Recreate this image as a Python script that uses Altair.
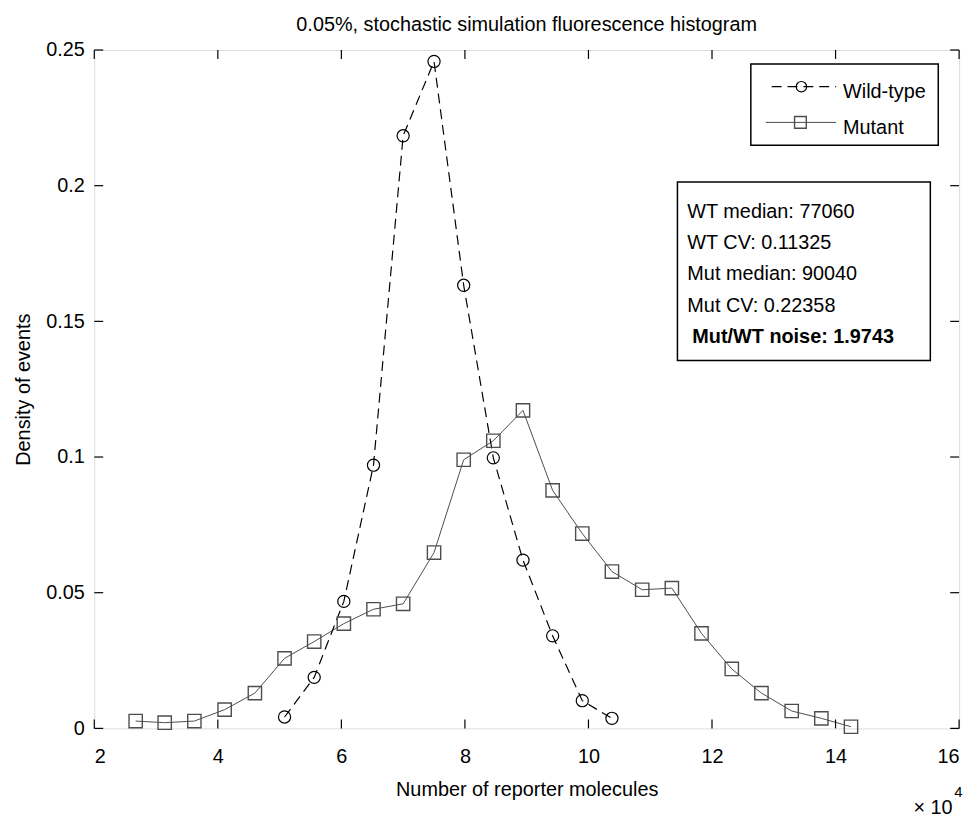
import altair as alt
import pandas as pd

# Data (x in units of 10^4 reporter molecules)
mut_x = [2.67, 3.14, 3.62, 4.11, 4.60, 5.08, 5.56, 6.04, 6.52, 7.00, 7.50, 7.98, 8.46,
         8.94, 9.42, 9.90, 10.38, 10.87, 11.35, 11.83, 12.32, 12.80, 13.29, 13.77, 14.25]
mut_y = [0.0027, 0.0021, 0.0027, 0.0069, 0.0130, 0.0258, 0.0320, 0.0386, 0.0439, 0.0459,
         0.0648, 0.0990, 0.1060, 0.1172, 0.0877, 0.0718, 0.0578, 0.0511, 0.0517, 0.0350,
         0.0219, 0.0130, 0.0064, 0.0037, 0.0006]
wt_x = [5.08, 5.56, 6.04, 6.52, 7.00, 7.50, 7.98, 8.46, 8.94, 9.42, 9.90, 10.38]
wt_y = [0.0042, 0.0188, 0.0468, 0.0970, 0.2184, 0.2458, 0.1633, 0.0997, 0.0620, 0.0341,
        0.0102, 0.0037]

x_ticks = [2, 4, 6, 8, 10, 12, 14, 16]
y_ticks = [0, 0.05, 0.1, 0.15, 0.2, 0.25]
stats_lines = ["WT  median: 77060", "WT  CV: 0.11325", "Mut median: 90040", "Mut CV: 0.22358"]
stats_bold = "Mut/WT noise: 1.9743"
title_text = "0.05%, stochastic simulation fluorescence histogram"

W, H = 872, 684
FONT = "Liberation Sans"
FS = 20
MUT_C = "#4d4d4d"

mut_df = pd.DataFrame({"x": mut_x, "y": mut_y})
wt_df = pd.DataFrame({"x": wt_x, "y": wt_y})
xt_df = pd.DataFrame({"t": x_ticks})
yt_df = pd.DataFrame({"t": y_ticks})

xscale = alt.Scale(domain=[2, 16], nice=False, zero=False)
yscale = alt.Scale(domain=[0, 0.25], nice=False, zero=False)

xaxis = alt.Axis(values=x_ticks, ticks=False, domain=False, grid=False, labelFontSize=FS,
                 labelFont=FONT, labelColor="black", labelPadding=18,
                 title="Number of reporter molecules", titleFont=FONT, titleFontSize=FS,
                 titleFontWeight="normal", titleColor="black", titlePadding=14,
                 labelExpr="datum.value", labelOverlap=False)
yaxis = alt.Axis(values=y_ticks, ticks=False, domain=False, grid=False, labelFontSize=FS,
                 labelFont=FONT, labelColor="black", labelPadding=10,
                 title="Density of events", titleFont=FONT, titleFontSize=FS,
                 titleFontWeight="normal", titleColor="black", titlePadding=12,
                 labelExpr="datum.value", labelOverlap=False)

mut_line = alt.Chart(mut_df).mark_line(color=MUT_C, strokeWidth=1).encode(
    x=alt.X("x:Q", scale=xscale, axis=xaxis),
    y=alt.Y("y:Q", scale=yscale, axis=yaxis),
)
mut_pts = alt.Chart(mut_df).mark_point(shape="square", size=180, color=MUT_C,
                                       strokeWidth=1.4, filled=False, opacity=1).encode(
    x=alt.X("x:Q", scale=xscale), y=alt.Y("y:Q", scale=yscale))

wt_line = alt.Chart(wt_df).mark_line(color="black", strokeWidth=1.2, strokeDash=[10, 6]).encode(
    x=alt.X("x:Q", scale=xscale), y=alt.Y("y:Q", scale=yscale))
wt_pts = alt.Chart(wt_df).mark_point(shape="circle", size=150, color="black",
                                     strokeWidth=1.2, filled=False, opacity=1).encode(
    x=alt.X("x:Q", scale=xscale), y=alt.Y("y:Q", scale=yscale))

# inward ticks (MATLAB box style)
tk = dict(color="black", strokeWidth=1.2)
xt_bot = alt.Chart(xt_df).mark_rule(**tk).encode(
    x=alt.X("t:Q", scale=xscale), y=alt.value(H), y2=alt.value(H - 9))
xt_top = alt.Chart(xt_df).mark_rule(**tk).encode(
    x=alt.X("t:Q", scale=xscale), y=alt.value(0), y2=alt.value(9))
yt_left = alt.Chart(yt_df).mark_rule(**tk).encode(
    y=alt.Y("t:Q", scale=yscale), x=alt.value(0), x2=alt.value(9))
yt_right = alt.Chart(yt_df).mark_rule(**tk).encode(
    y=alt.Y("t:Q", scale=yscale), x=alt.value(W), x2=alt.value(W - 9))

one = pd.DataFrame({"a": [0]})


def txt(s, x, y, size=FS, weight="normal", align="left", baseline="middle"):
    return alt.Chart(one).mark_text(text=s, align=align, baseline=baseline, font=FONT,
                                    fontSize=size, fontWeight=weight, color="black").encode(
        x=alt.value(x), y=alt.value(y))


# title
title_mark = txt(title_text, W / 2, -25, align="center")

# legend box
leg_box = alt.Chart(one).mark_rect(fill="white", stroke="black", strokeWidth=1.5).encode(
    x=alt.value(662), x2=alt.value(851), y=alt.value(14), y2=alt.value(96))
leg_wt_line = alt.Chart(one).mark_rule(color="black", strokeWidth=1.2, strokeDash=[10, 6]).encode(
    x=alt.value(683), x2=alt.value(748), y=alt.value(37))
leg_wt_sym = alt.Chart(one).mark_point(shape="circle", size=110, color="black", filled=False,
                                       strokeWidth=1.2, opacity=1).encode(
    x=alt.value(713), y=alt.value(37))
leg_mut_line = alt.Chart(one).mark_rule(color=MUT_C, strokeWidth=1).encode(
    x=alt.value(677), x2=alt.value(748), y=alt.value(73))
leg_mut_sym = alt.Chart(one).mark_point(shape="square", size=140, color=MUT_C, filled=False,
                                        strokeWidth=1.4, opacity=1).encode(
    x=alt.value(712), y=alt.value(73))
leg_wt_txt = txt("Wild-type", 755, 42)
leg_mut_txt = txt("Mutant", 755, 79)

# stats box
stats_box = alt.Chart(one).mark_rect(fill="white", stroke="black", strokeWidth=1.5).encode(
    x=alt.value(588), x2=alt.value(843), y=alt.value(133), y2=alt.value(313))
stats_y = [163, 195, 226, 258]
stats_marks = [txt(s, 598, yy) for s, yy in zip(stats_lines, stats_y)]
stats_b = txt(stats_bold, 603, 289, weight="bold")

# exponent label
exp_a = txt("\u00d7 10", 826, 770, baseline="alphabetic")
exp_b = txt("4", 867, 748, size=15)

chart = alt.layer(
    mut_line, wt_line, mut_pts, wt_pts,
    xt_bot, xt_top, yt_left, yt_right,
    leg_box, leg_wt_line, leg_wt_sym, leg_mut_line, leg_mut_sym, leg_wt_txt, leg_mut_txt,
    stats_box, *stats_marks, stats_b, exp_a, exp_b, title_mark,
).properties(
    width=W, height=H,
    autosize=alt.AutoSizeParams(type="none"),
    padding={"left": 87, "top": 39, "right": 12, "bottom": 87},
).configure_view(stroke="black", strokeWidth=1.5).configure(background="white")

chart.save("out.html", embed_options={"renderer": "svg", "actions": False})
